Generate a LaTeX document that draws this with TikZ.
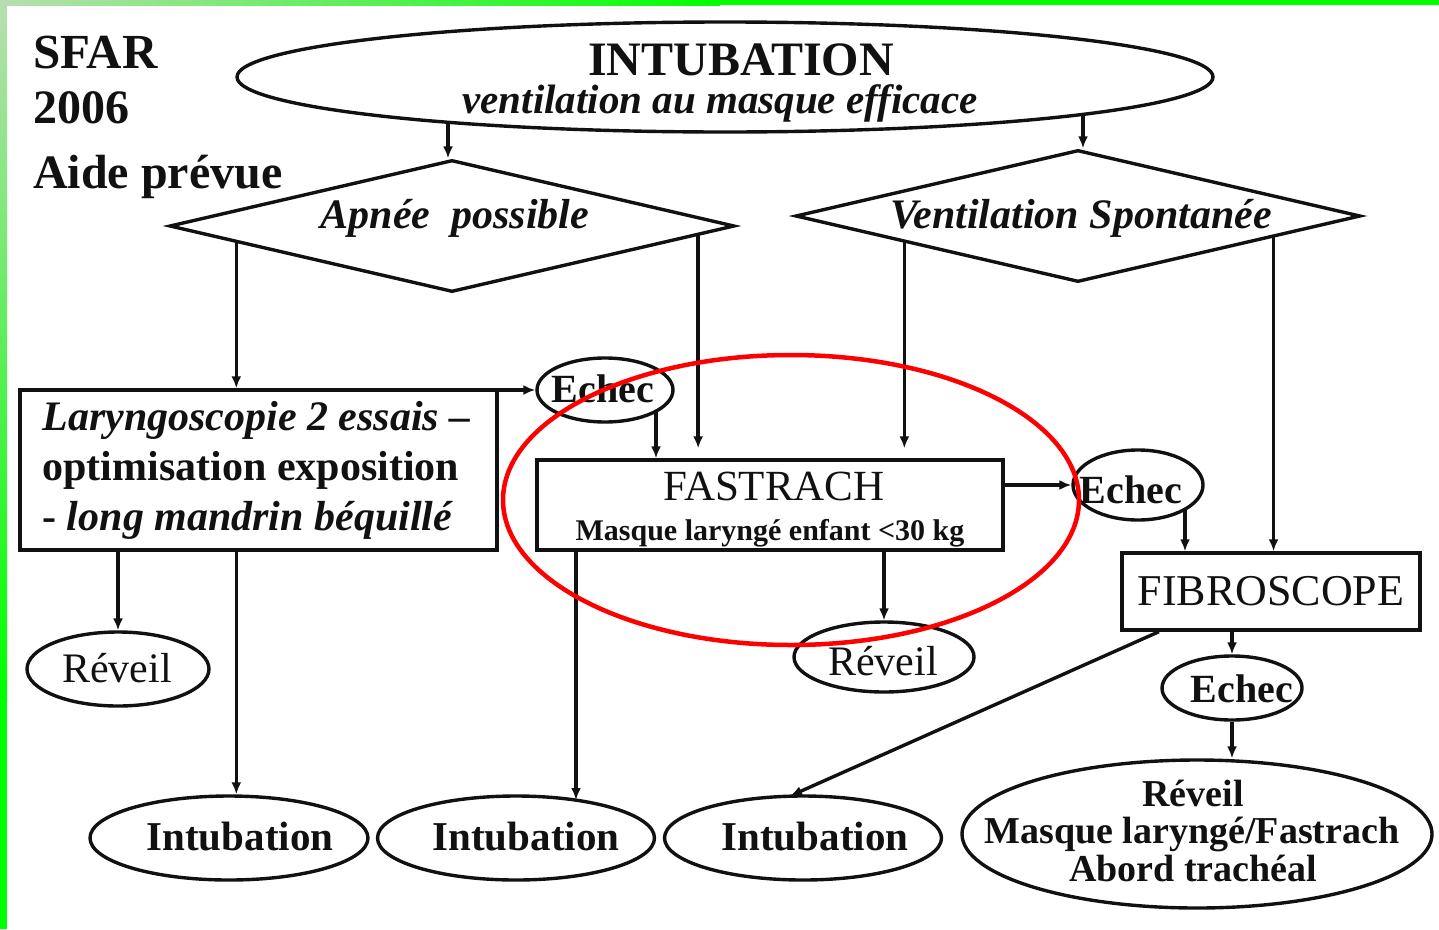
\documentclass[tikz,border=0pt]{standalone}
\usepackage{fontspec}
\setmainfont{Liberation Serif}
\usetikzlibrary{shapes.geometric,arrows.meta,calc}
\newcommand\fsz[1]{\fontsize{#1}{#1}\selectfont}
\definecolor{pale}{RGB}{184,222,176}
\definecolor{brightgreen}{RGB}{0,255,0}
\definecolor{ink}{RGB}{17,17,17}
\begin{document}
\begin{tikzpicture}[x=1pt,y=-1pt,
  arr/.style={draw=ink, line width=3.4pt, -{Latex[length=12pt,width=10pt]}},
  ell/.style={draw=ink, ellipse, line width=3.4pt, inner sep=0pt},
  dia/.style={draw=ink, diamond, line width=3.4pt, inner sep=0pt, minimum width=565, minimum height=132},
  box/.style={draw=ink, rectangle, line width=3.4pt, inner sep=0pt},
  txt/.style={inner sep=0pt, anchor=base, text=ink},
  ]
\useasboundingbox (0,0) rectangle (1439,929);
\fill[white] (0,0) rectangle (1439,929);
% green frame
\shade[left color=pale, right color=brightgreen] (0,0) rectangle (720,5);
\fill[brightgreen] (720,0) rectangle (1439,5);
\shade[top color=pale, bottom color=brightgreen] (0,0) rectangle (7,700);
\fill[brightgreen] (0,700) rectangle (7,929);

% header text
\node[txt, anchor=base west, font=\bfseries\fsz{49}] (sfar) at (33,68) {SFAR};
\node[txt, anchor=base west, font=\bfseries\fsz{48}] (year) at (33,123) {2006};
\node[txt, anchor=base west, font=\bfseries\fsz{48}] (aide) at (33,188) {Aide prévue};

% shapes
\node[ell, minimum width=976, minimum height=110] (intub) at (725,77) {};
\node[txt, font=\bfseries\fsz{48}] (intubT) at (741,75) {INTUBATION};
\node[txt, font=\bfseries\itshape\fsz{41}] (ventmT) at (720,113) {ventilation au masque efficace};

\node[dia] (apnee) at (452,226) {};
\node[txt, font=\bfseries\itshape\fsz{42}] (apneeT) at (455,228) {Apnée\ \ possible};
\node[dia] (vent) at (1078,216) {};
\node[txt, font=\bfseries\itshape\fsz{42}] (ventT) at (1081,228) {Ventilation Spontanée};

\node[box, minimum width=477, minimum height=160, text width=432, align=flush left,
      font={\fontsize{42}{50}\selectfont\bfseries}, text=ink] (laryngo) at (258.5,470)
  {{\itshape Laryngoscopie 2 essais –}\\optimisation exposition\\- {\itshape long mandrin béquillé}};

\node[box, minimum width=466, minimum height=90] (fastrach) at (770,505) {};
\node[txt, font=\fsz{43}] (fastrachT) at (774,500) {FASTRACH};
\node[txt, font=\bfseries\fsz{30}] (fastrachS) at (770,540) {Masque laryngé enfant <30 kg};

\node[box, minimum width=298, minimum height=77, font=\fsz{44}, text=ink] (fibro) at (1271,591.5) {FIBROSCOPE};

\node[ell, minimum width=136, minimum height=64] (echec1) at (605,390) {};
\node[txt, font=\bfseries\fsz{40}] (echec1T) at (603,402) {Echec};
\node[ell, minimum width=130, minimum height=70] (echec2) at (1138,485) {};
\node[txt, font=\bfseries\fsz{40}] (echec2T) at (1131,503) {Echec};
\node[ell, minimum width=140, minimum height=64] (echec3) at (1232,688) {};
\node[txt, font=\bfseries\fsz{40}] (echec3T) at (1242,702) {Echec};

\node[ell, minimum width=182, minimum height=74] (reveil1) at (118,669) {};
\node[txt, font=\fsz{42}] (reveil1T) at (117,682) {Réveil};
\node[ell, minimum width=180, minimum height=70] (reveil2) at (884,657) {};
\node[txt, font=\fsz{42}] (reveil2T) at (883,675) {Réveil};

\node[ell, minimum width=278, minimum height=84] (intub1) at (229,838) {};
\node[txt, font=\bfseries\fsz{41}] (intub1T) at (240,850) {Intubation};
\node[ell, minimum width=277, minimum height=84] (intub2) at (516,838) {};
\node[txt, font=\bfseries\fsz{41}] (intub2T) at (526,850) {Intubation};
\node[ell, minimum width=277, minimum height=84] (intub3) at (803,838) {};
\node[txt, font=\bfseries\fsz{41}] (intub3T) at (815,850) {Intubation};

\node[ell, minimum width=470, minimum height=148] (bigell) at (1197,834) {};
\node[txt, font=\bfseries\fsz{38}] (big1) at (1193,806) {Réveil};
\node[txt, font=\bfseries\fsz{38}] (big2) at (1192,843) {Masque laryngé/Fastrach};
\node[txt, font=\bfseries\fsz{38}] (big3) at (1193,881) {Abord trachéal};

% connectors
\draw[arr] ($(intub.center)+(-277,45)$) coordinate (pI) -- (pI |- apnee.north);
\draw[arr] ($(intub.center)+(358,37)$) coordinate (pJ) -- (pJ |- vent.north);
\draw[arr] ($(apnee.west)!0.241!(apnee.south)$) coordinate (pA) -- (pA |- laryngo.north);
\draw[arr, shorten >=10pt] ($(apnee.east)!0.134!(apnee.south)$) coordinate (pB) -- (pB |- fastrach.north);
\draw[arr, shorten >=10pt] ($(vent.west)!0.389!(vent.south)$) coordinate (pC) -- (pC |- fastrach.north);
\draw[arr] ($(vent.east)!0.312!(vent.south)$) coordinate (pD) -- (pD |- fibro.north);
\draw[arr] (echec1.west -| laryngo.east) -- (echec1.west);
\draw[arr] ($(echec1.center)+(51,21)$) coordinate (pE) -- (pE |- fastrach.north);
\draw[arr] (echec2.west -| fastrach.east) -- (echec2.west);
\draw[arr] ($(echec2.center)+(47,24)$) coordinate (pF) -- (pF |- fibro.north);
\draw[arr] (echec3.north |- fibro.south) -- (echec3.north);
\draw[arr] (echec3.south) -- (echec3.south |- bigell.north);
\draw[arr] ($(fibro.south west)!0.128!(fibro.south east)$) -- ($(intub3.center)+(-13,-42)$);
\draw[arr] (reveil1.north |- laryngo.south) -- (reveil1.north);
\draw[arr] (pA |- laryngo.south) -- (pA |- intub1.north);
\path ($(intub2.center)+(60,-38)$) coordinate (pG);
\draw[arr] (pG |- fastrach.south) -- (pG);
\draw[arr] (reveil2.north |- fastrach.south) -- (reveil2.north);

% red highlight
\node[draw=red, ellipse, line width=4.5pt, inner sep=0pt, minimum width=576, minimum height=290] (focus) at (791,500) {};
\end{tikzpicture}
\end{document}
